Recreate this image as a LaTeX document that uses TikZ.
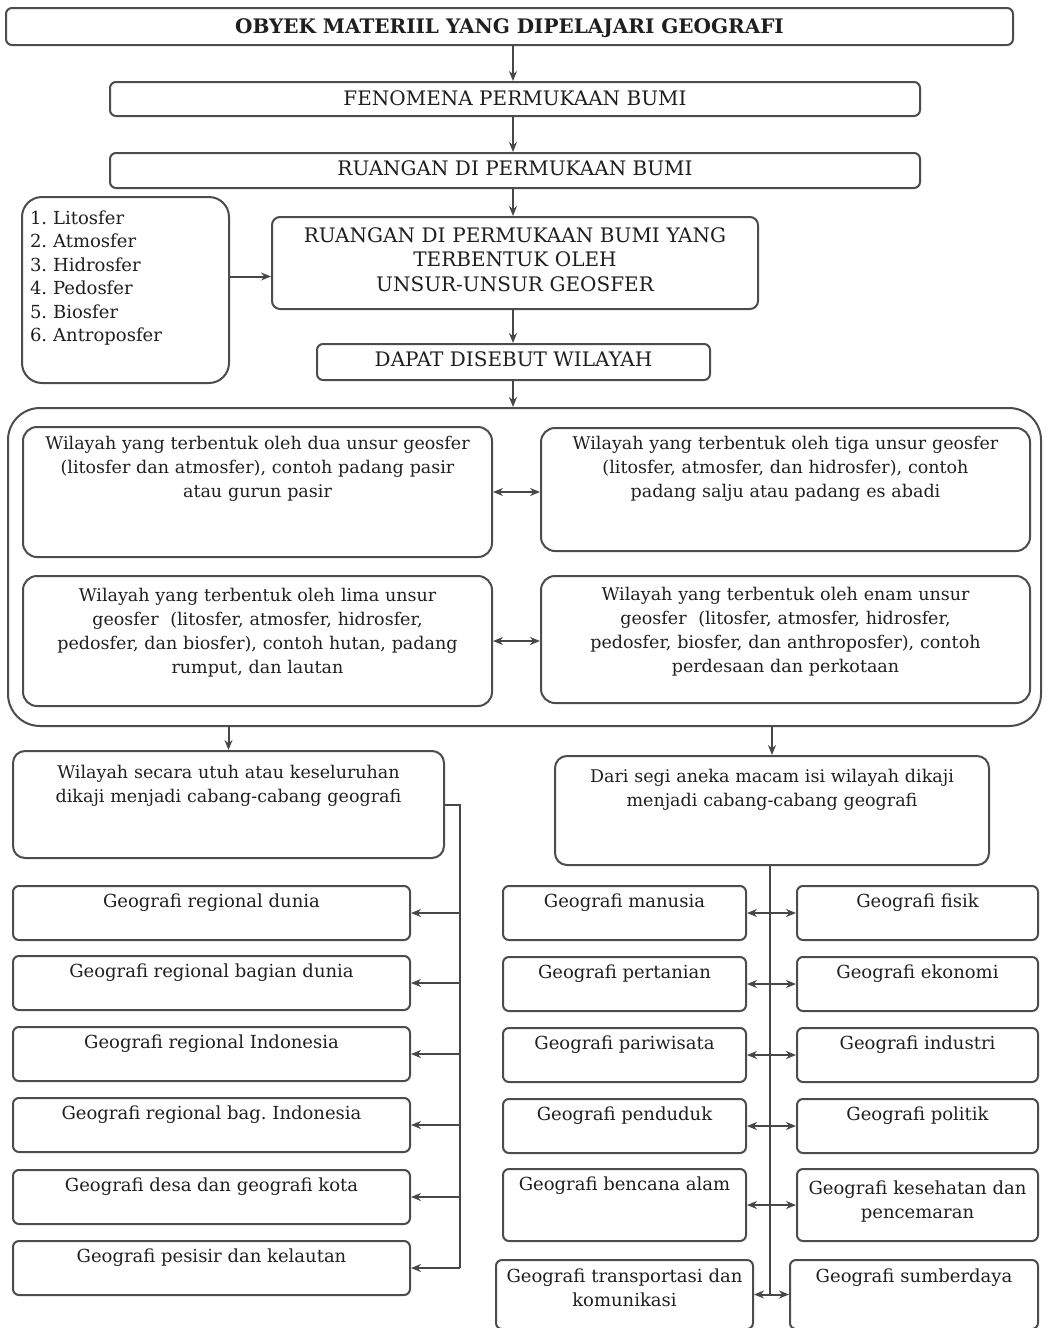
\documentclass[tikz,border=0pt]{standalone}
\usepackage{fontspec}
\setmainfont{DejaVu Serif}
\usetikzlibrary{positioning,calc,arrows.meta}
\frenchspacing

\begin{document}
\begin{tikzpicture}[x=1pt, y=-1pt, >={Stealth[length=10pt, width=8pt]}, line width=2pt, color=black!72,
    box/.style={draw=black!70, rounded corners=6pt, inner sep=0pt, anchor=north west, align=center, text=black!88, font=\fontsize{17.5}{24}\selectfont},
    titlebox/.style={box, font=\fontsize{20}{24.5}\selectfont},
    colbox/.style={box, font=\fontsize{18}{24.5}\selectfont, text height=21pt, text depth=33pt}]
        \useasboundingbox (0,0) rectangle (1048,1328);

        % Nodes
        \node[titlebox, font=\fontsize{20}{24.5}\selectfont\bfseries, minimum width=1007pt, text height=25pt, text depth=12pt] (obyek) at (5,7) {OBYEK MATERIIL YANG DIPELAJARI GEOGRAFI};
        \node[titlebox, minimum width=810pt, text height=23pt, text depth=11pt] (fenomena) at (109,81) {FENOMENA PERMUKAAN BUMI};
        \node[titlebox, minimum width=810pt, text height=22pt, text depth=13pt] (ruang) at (109,152) {RUANGAN DI PERMUKAAN BUMI};
        \node[titlebox, text width=486pt, text height=25pt, text depth=67pt, rounded corners=8pt] (terbentuk) at (271,216) {RUANGAN DI PERMUKAAN BUMI YANG\\TERBENTUK OLEH\\UNSUR-UNSUR GEOSFER};
        \node[titlebox, minimum width=393pt, text height=22pt, text depth=14pt] (dapat) at (316,343) {DAPAT DISEBUT WILAYAH};
        \node[box, font=\fontsize{18}{23.5}\selectfont, text width=191pt, inner xsep=8pt, align=left, text height=27pt, text depth=159pt, rounded corners=20pt] (unsur) at (21,196) {1. Litosfer\\2. Atmosfer\\3. Hidrosfer\\4. Pedosfer\\5. Biosfer\\6. Antroposfer};

        \node[box, minimum width=1033pt, minimum height=318pt, rounded corners=32pt] (wilayah) at (7,407) {};
        \node[box, text width=469pt, text height=22pt, text depth=108pt, rounded corners=14pt] (dua) at (22,426) {Wilayah yang terbentuk oleh dua unsur geosfer\\(litosfer dan atmosfer), contoh padang pasir\\atau gurun pasir};
        \node[box, text width=489pt, text height=21pt, text depth=102pt, rounded corners=14pt] (tiga) at (540,427) {Wilayah yang terbentuk oleh tiga unsur geosfer\\(litosfer, atmosfer, dan hidrosfer), contoh\\padang salju atau padang es abadi};
        \node[box, text width=469pt, text height=25pt, text depth=105pt, rounded corners=14pt] (lima) at (22,575) {Wilayah yang terbentuk oleh lima unsur\\geosfer\ \ (litosfer, atmosfer, hidrosfer,\\pedosfer, dan biosfer), contoh hutan, padang\\rumput, dan lautan};
        \node[box, text width=489pt, text height=24pt, text depth=103pt, rounded corners=14pt] (enam) at (540,575) {Wilayah yang terbentuk oleh enam unsur\\geosfer\ \ (litosfer, atmosfer, hidrosfer,\\pedosfer, biosfer, dan anthroposfer), contoh\\perdesaan dan perkotaan};

        \node[box, text width=431pt, text height=27pt, text depth=80pt, rounded corners=12pt] (utuh) at (12,750) {Wilayah secara utuh atau keseluruhan\\dikaji menjadi cabang-cabang geografi};
        \node[box, text width=434pt, text height=26pt, text depth=83pt, rounded corners=12pt] (segi) at (554,755) {Dari segi aneka macam isi wilayah dikaji\\menjadi cabang-cabang geografi};

        % regional branches
        \node[colbox, minimum width=397pt] (dunia) at (12,885) {Geografi regional dunia};
        \node[colbox, minimum width=397pt] (bagian) at (12,955) {Geografi regional bagian dunia};
        \node[colbox, minimum width=397pt] (indo) at (12,1026) {Geografi regional Indonesia};
        \node[colbox, minimum width=397pt] (bagindo) at (12,1097) {Geografi regional bag. Indonesia};
        \node[colbox, minimum width=397pt] (desa) at (12,1169) {Geografi desa dan geografi kota};
        \node[colbox, minimum width=397pt] (pesisir) at (12,1240) {Geografi pesisir dan kelautan};

        % systematic branches
        \node[colbox, minimum width=243pt] (manusia) at (502,885) {Geografi manusia};
        \node[colbox, minimum width=243pt] (pertanian) at (502,956) {Geografi pertanian};
        \node[colbox, minimum width=243pt] (pariwisata) at (502,1027) {Geografi pariwisata};
        \node[colbox, minimum width=243pt] (penduduk) at (502,1098) {Geografi penduduk};
        \node[colbox, minimum width=243pt, text depth=51pt] (bencana) at (502,1168) {Geografi bencana alam};
        \node[colbox, text width=257pt, text height=22pt, text depth=47pt] (transport) at (495,1259) {Geografi transportasi dan\\komunikasi};

        \node[colbox, minimum width=241pt] (fisik) at (796,885) {Geografi fisik};
        \node[colbox, minimum width=241pt] (ekonomi) at (796,956) {Geografi ekonomi};
        \node[colbox, minimum width=241pt] (industri) at (796,1027) {Geografi industri};
        \node[colbox, minimum width=241pt] (politik) at (796,1098) {Geografi politik};
        \node[colbox, text width=241pt, text height=25pt, text depth=47pt] (kesehatan) at (796,1168) {Geografi kesehatan dan\\pencemaran};
        \node[colbox, text width=248pt, text height=22pt, text depth=47pt] (sumberdaya) at (789,1259) {Geografi sumberdaya};

        % Arrows
        \coordinate (spine) at (513,0);
        \draw[->] (spine |- obyek.south) -- (spine |- fenomena.north);
        \draw[->] (spine |- fenomena.south) -- (spine |- ruang.north);
        \draw[->] (spine |- ruang.south) -- (spine |- terbentuk.north);
        \draw[->] (spine |- terbentuk.south) -- (spine |- dapat.north);
        \draw[->] (spine |- dapat.south) -- (spine |- wilayah.north);
        \coordinate (sisi) at ($(unsur.east)!.5!(terbentuk.west)$);
        \draw[->] (unsur.east |- sisi) -- (terbentuk.west |- sisi);
        \draw[<->] (dua.east) -- (dua.east -| tiga.west);
        \draw[<->] (lima.east) -- (lima.east -| enam.west);
        \draw[->] (utuh.north |- wilayah.south) -- (utuh.north);
        \draw[->] (segi.north |- wilayah.south) -- (segi.north);

        \coordinate (ltrunk) at (460,0);
        \coordinate (rtrunk) at (770,0);
        \draw (utuh.east) -| (ltrunk |- pesisir);
        \foreach \n in {dunia, bagian, indo, bagindo, desa, pesisir}
            \draw[->] (ltrunk |- \n) -- (\n.east);
        \draw (rtrunk |- segi.south) -- (rtrunk |- transport);
        \foreach \a/\b in {manusia/fisik, pertanian/ekonomi, pariwisata/industri, penduduk/politik, bencana/kesehatan, transport/sumberdaya}
            \draw[<->] (\a.east) -- (\a.east -| \b.west);
    \end{tikzpicture}
\end{document}
